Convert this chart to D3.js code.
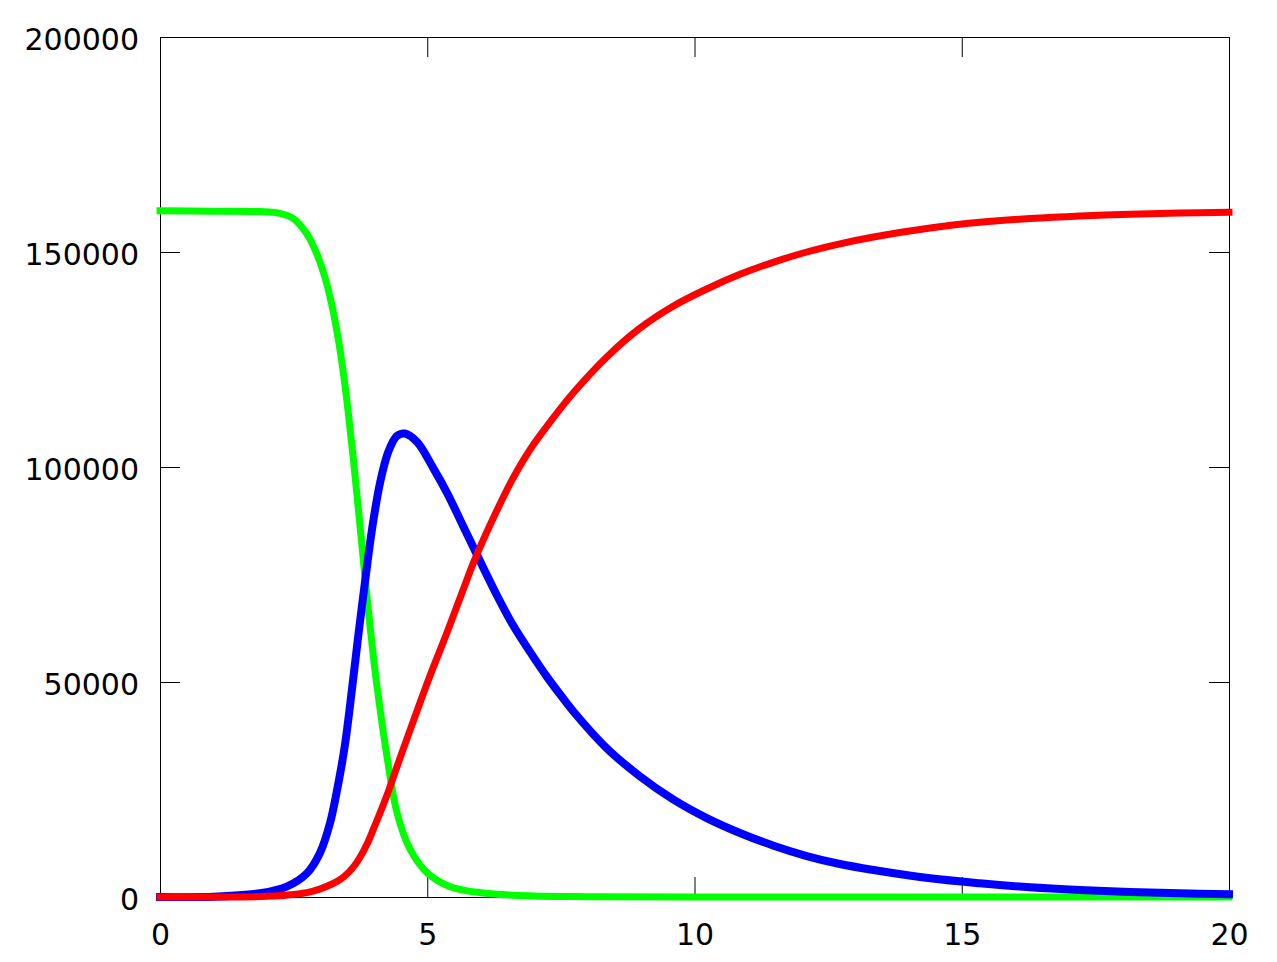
<!DOCTYPE html>
<html>
<head>
<meta charset="utf-8">
<script src="https://cdn.jsdelivr.net/npm/d3@7"></script>
<style>
  body { margin: 0; background: #fff; }
  text { font-family: "DejaVu Sans", sans-serif; font-size: 30px; fill: #000; }
</style>
</head>
<body>
<div id="chart"></div>
<script>
// Values: time t, population
const xTicks = [0, 5, 10, 15, 20];
const yTicks = [0, 50000, 100000, 150000, 200000];

// S - susceptible (green)
const susceptible = [
  [0, 159600], [1, 159500], [1.87, 159400], [2.24, 159000], [2.49, 157840],
  [2.74, 154350], [2.93, 149700], [3.09, 143940], [3.21, 137940], [3.33, 130140],
  [3.43, 121940], [3.52, 112940], [3.63, 100290], [3.74, 86540], [3.84, 73840],
  [3.93, 62860], [4.02, 52960], [4.12, 43460], [4.25, 32410], [4.43, 19810],
  [4.68, 11060], [5.0, 5620], [5.43, 2400], [6.04, 930], [6.98, 230],
  [8, 80], [10, 10], [20, 0]
];

// I - infected (blue)
const infected = [
  [0, 10], [1, 60], [1.87, 860], [2.37, 2400], [2.75, 5510], [2.99, 10160],
  [3.18, 17140], [3.33, 26000], [3.46, 35350], [3.59, 48140], [3.70, 59770],
  [3.84, 73720], [3.97, 85810], [4.12, 96510], [4.27, 103490], [4.43, 107210],
  [4.58, 107790], [4.81, 105810], [5.11, 99800], [5.37, 94000], [5.67, 86300],
  [5.93, 79600], [6.31, 70000], [6.60, 63300], [6.96, 56300], [7.24, 51200],
  [7.48, 47200], [7.73, 43200], [8.36, 34570], [8.98, 28060], [9.6, 22710],
  [10.23, 18360], [10.85, 14890], [11.48, 11930], [12.1, 9530], [12.72, 7670],
  [13.35, 6280], [14.41, 4350], [15.34, 3190], [16.28, 2260], [17.21, 1630],
  [18.15, 1160], [19.08, 860], [20, 630]
];

// R - recovered (red)
const recovered = [
  [0, 0], [1, 10], [2.0, 150], [2.5, 600], [2.81, 1200], [3.0, 1900],
  [3.2, 2900], [3.31, 3600], [3.45, 4800], [3.62, 7000], [3.74, 9200],
  [3.87, 12200], [4.0, 16000], [4.18, 21500], [4.3, 25500], [4.49, 32300],
  [4.81, 43300], [5.05, 51400], [5.37, 61500], [5.67, 71400], [5.89, 78500],
  [6.3, 89800], [6.6, 97300], [6.92, 104000], [7.24, 109500], [7.73, 117200],
  [8.36, 125600], [8.98, 132300], [9.6, 137400], [10.23, 141400], [10.85, 144800],
  [11.47, 147600], [12.1, 150000], [12.72, 151900], [13.35, 153500], [14.41, 155600],
  [15.34, 156900], [16.28, 157800], [17.21, 158400], [18.15, 158800], [19.08, 159050],
  [20, 159250]
];

const width = 1277;
const height = 962;
const margin = { top: 37, right: 48, bottom: 65, left: 160 };

const svg = d3.select("#chart")
  .append("svg")
  .attr("width", width)
  .attr("height", height);

svg.append("rect")
  .attr("width", width)
  .attr("height", height)
  .attr("fill", "#fff");

const x = d3.scaleLinear()
  .domain([0, 20])
  .range([margin.left, width - margin.right]);

const y = d3.scaleLinear()
  .domain([0, 200000])
  .range([height - margin.bottom, margin.top]);

const tickLen = 20;

// Axes: ticks point inward and are mirrored on the opposite side
svg.append("g")
  .attr("transform", `translate(0,${y(0)})`)
  .call(d3.axisBottom(x).tickValues(xTicks).tickSize(-tickLen).tickPadding(27).tickFormat(d3.format("d")))
  .call(g => g.select(".domain").remove());

svg.append("g")
  .attr("transform", `translate(0,${y(200000)})`)
  .call(d3.axisTop(x).tickValues(xTicks).tickSize(-tickLen).tickFormat(""))
  .call(g => g.select(".domain").remove());

svg.append("g")
  .attr("transform", `translate(${x(0)},0)`)
  .call(d3.axisLeft(y).tickValues(yTicks).tickSize(-tickLen).tickPadding(21).tickFormat(d3.format("d")))
  .call(g => g.select(".domain").remove())
  .call(g => g.selectAll(".tick text").attr("dy", "0.4em"));

svg.append("g")
  .attr("transform", `translate(${x(20)},0)`)
  .call(d3.axisRight(y).tickValues(yTicks).tickSize(-tickLen).tickFormat(""))
  .call(g => g.select(".domain").remove());

svg.selectAll(".tick line").attr("stroke", "#000").attr("stroke-width", 1);
svg.selectAll(".tick text")
  .attr("font-family", "DejaVu Sans, sans-serif")
  .attr("font-size", 30)
  .attr("fill", "#000");

// Border
svg.append("rect")
  .attr("x", x(0) + 0.5)
  .attr("y", y(200000) + 0.5)
  .attr("width", x(20) - x(0))
  .attr("height", y(0) - y(200000))
  .attr("fill", "none")
  .attr("stroke", "#000")
  .attr("stroke-width", 1);

const line = d3.line()
  .x(d => x(d[0]))
  .y(d => y(d[1]))
  .curve(d3.curveCatmullRom.alpha(0.5));

const series = [
  { data: susceptible, color: "#00ff00", w: 7 },
  { data: infected, color: "#0000ff", w: 8 },
  { data: recovered, color: "#ff0000", w: 7 }
];

series.forEach(s => {
  svg.append("path")
    .datum(s.data)
    .attr("d", line)
    .attr("fill", "none")
    .attr("stroke", s.color)
    .attr("stroke-width", s.w)
    .attr("stroke-linecap", "square")
    .attr("stroke-linejoin", "round");
});
</script>
</body>
</html>
